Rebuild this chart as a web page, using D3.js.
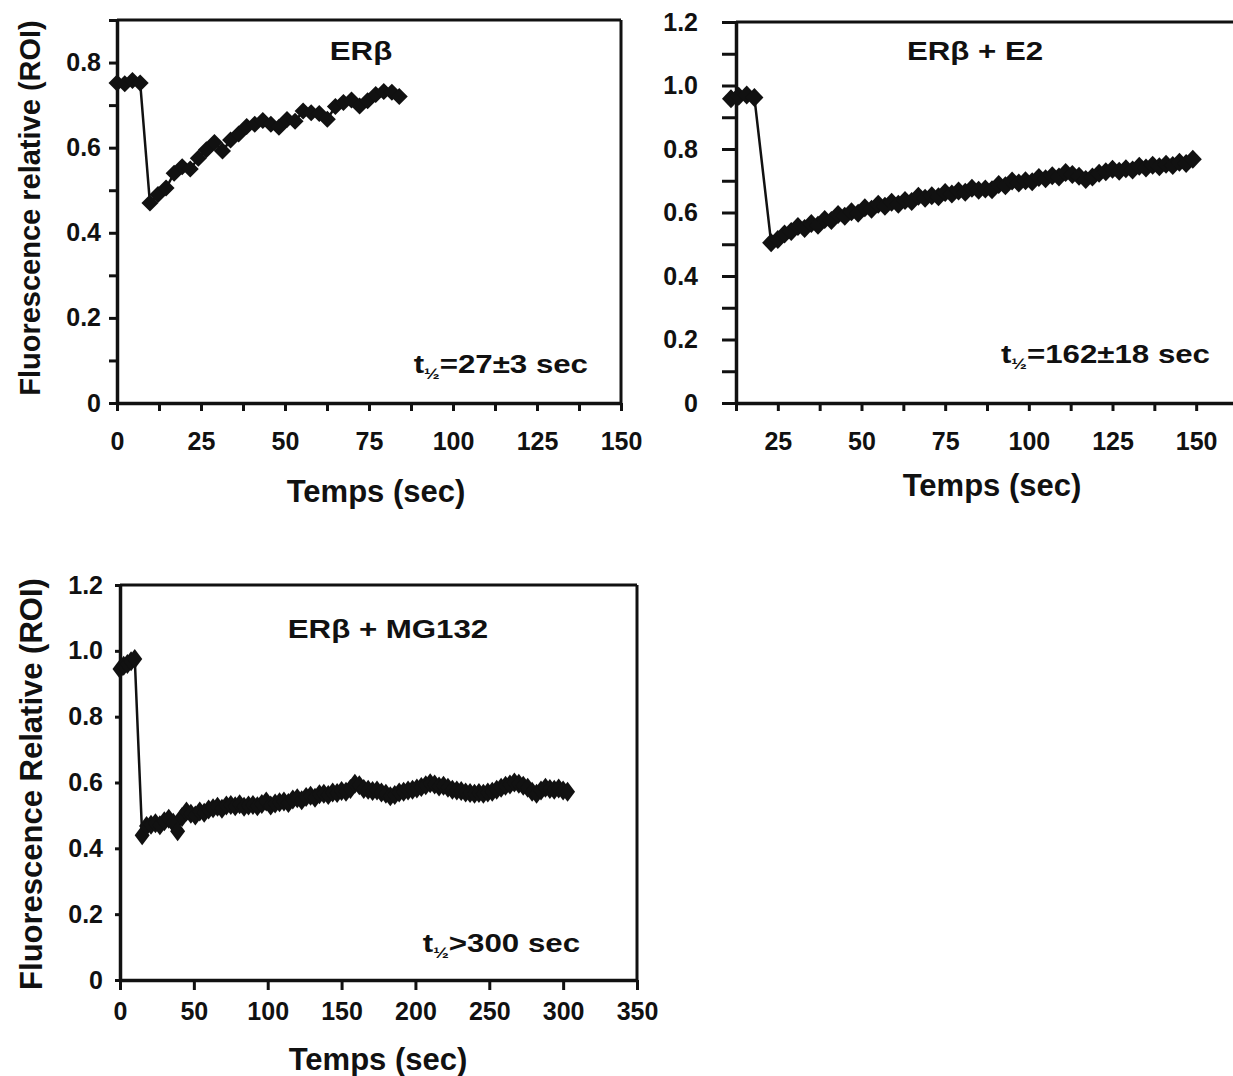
<!DOCTYPE html>
<html>
<head>
<meta charset="utf-8">
<script src="https://cdn.jsdelivr.net/npm/d3@7"></script>
<style>
  body { margin: 0; background: #fff; }
  svg text { font-family: "Liberation Sans", Arial, Helvetica, sans-serif; font-weight: bold; fill: #111; }
</style>
</head>
<body>
<script>
// ---- panel 1 : ERb ----
const erbTime = [0, 2.3, 4.6, 6.9, 9.8, 12.2, 14.6, 17.0, 19.4, 21.8, 24.2, 26.6, 29.0, 31.4, 33.8, 36.2, 38.6, 41.0,
  43.4, 45.8, 48.2, 50.6, 53.0, 55.4, 57.8, 60.2, 62.6, 65.0, 67.4, 69.8, 72.2, 74.6, 77.0, 79.4, 81.8, 84.0];
const erbValue = [0.752, 0.750, 0.758, 0.752, 0.470, 0.490, 0.505, 0.540, 0.555, 0.550, 0.575, 0.595, 0.612, 0.592,
  0.618, 0.632, 0.650, 0.655, 0.664, 0.655, 0.648, 0.666, 0.662, 0.686, 0.682, 0.680, 0.667, 0.697, 0.706, 0.712,
  0.698, 0.710, 0.725, 0.732, 0.730, 0.720];
const erbXTicks = [0, 12.5, 25, 37.5, 50, 62.5, 75, 87.5, 100, 112.5, 125, 137.5, 150];
const erbXLabels = [0, 25, 50, 75, 100, 125, 150];
const erbYTicks = [0, 0.1, 0.2, 0.3, 0.4, 0.5, 0.6, 0.7, 0.8, 0.9];
const erbYLabels = [0, 0.2, 0.4, 0.6, 0.8];

// ---- panel 2 : ERb + E2 ----
const e2Time = [11, 13.3, 15.7, 18, 23, 25, 27, 29, 31, 33, 35, 37, 39, 41, 43, 45, 47, 49, 51, 53, 55, 57, 59, 61,
  63, 65, 67, 69, 71, 73, 75, 77, 79, 81, 83, 85, 87, 89, 91, 93, 95, 97, 99, 101, 103, 105, 107, 109, 111, 113,
  115, 117, 119, 121, 123, 125, 127, 129, 131, 133, 135, 137, 139, 141, 143, 145, 147, 149];
const e2Value = [0.958, 0.966, 0.970, 0.962, 0.505, 0.515, 0.532, 0.540, 0.556, 0.550, 0.565, 0.560, 0.578, 0.575,
  0.594, 0.588, 0.602, 0.598, 0.615, 0.610, 0.626, 0.620, 0.632, 0.626, 0.638, 0.635, 0.651, 0.645, 0.653, 0.650,
  0.663, 0.658, 0.668, 0.664, 0.676, 0.670, 0.674, 0.672, 0.688, 0.684, 0.699, 0.693, 0.700, 0.697, 0.710, 0.706,
  0.716, 0.712, 0.726, 0.720, 0.714, 0.704, 0.712, 0.724, 0.728, 0.736, 0.730, 0.738, 0.734, 0.746, 0.740, 0.749,
  0.744, 0.752, 0.748, 0.758, 0.754, 0.768];
const e2XTicks = [12.5, 25, 37.5, 50, 62.5, 75, 87.5, 100, 112.5, 125, 137.5, 150, 162.5];
const e2XLabels = [25, 50, 75, 100, 125, 150];
const e2YTicks = [0, 0.1, 0.2, 0.3, 0.4, 0.5, 0.6, 0.7, 0.8, 0.9, 1.0, 1.1, 1.2];
const e2YLabels = [0, 0.2, 0.4, 0.6, 0.8, 1.0, 1.2];

// ---- panel 3 : ERb + MG132 ----
const mgTime = [0, 2.5, 5, 7.5, 10, 15, 18, 21, 24, 27, 30, 33, 36, 39, 42, 45, 48, 51, 54, 57, 60, 63, 66, 69, 72,
  75, 78, 81, 84, 87, 90, 93, 96, 99, 102, 105, 108, 111, 114, 117, 120, 123, 126, 129, 132, 135, 138, 141, 144,
  147, 150, 153, 156, 159, 162, 165, 168, 171, 174, 177, 180, 183, 186, 189, 192, 195, 198, 201, 204, 207, 210,
  213, 216, 219, 222, 225, 228, 231, 234, 237, 240, 243, 246, 249, 252, 255, 258, 261, 264, 267, 270, 273, 276,
  279, 282, 285, 288, 291, 294, 297, 300, 303];
const mgValue = [0.945, 0.955, 0.960, 0.968, 0.975, 0.440, 0.468, 0.472, 0.476, 0.470, 0.482, 0.490, 0.478, 0.452,
  0.495, 0.512, 0.505, 0.500, 0.512, 0.508, 0.518, 0.522, 0.526, 0.520, 0.530, 0.532, 0.528, 0.534, 0.526, 0.530,
  0.532, 0.528, 0.535, 0.542, 0.530, 0.536, 0.540, 0.542, 0.538, 0.548, 0.552, 0.546, 0.556, 0.560, 0.554, 0.564,
  0.566, 0.562, 0.570, 0.568, 0.574, 0.572, 0.580, 0.596, 0.592, 0.580, 0.578, 0.574, 0.576, 0.570, 0.566, 0.558,
  0.562, 0.570, 0.572, 0.576, 0.578, 0.582, 0.586, 0.592, 0.598, 0.594, 0.588, 0.590, 0.584, 0.578, 0.576, 0.574,
  0.570, 0.568, 0.566, 0.568, 0.566, 0.570, 0.572, 0.578, 0.584, 0.590, 0.594, 0.600, 0.596, 0.590, 0.584, 0.572,
  0.566, 0.576, 0.584, 0.580, 0.578, 0.582, 0.576, 0.572];
const mgXTicks = [0, 50, 100, 150, 200, 250, 300, 350];
const mgYTicks = [0, 0.2, 0.4, 0.6, 0.8, 1.0, 1.2];

const W = 1233, H = 1076;
const ink = "#111";

const svg = d3.select("body").append("svg")
  .attr("width", W)
  .attr("height", H);
svg.append("rect").attr("width", W).attr("height", H).attr("fill", "#fff");

function fmtY(d) { return d === 0 ? "0" : d.toFixed(1); }

function drawPanel(p) {
  const x = d3.scaleLinear().domain(p.xDomain).range(p.xRange);
  const y = d3.scaleLinear().domain(p.yDomain).range(p.yRange);
  const g = svg.append("g");

  // frame (top + right)
  g.append("line")
    .attr("x1", x(p.xDomain[0])).attr("x2", x(p.xDomain[1]))
    .attr("y1", y(p.yDomain[1])).attr("y2", y(p.yDomain[1]))
    .attr("stroke", ink).attr("stroke-width", 3);
  g.append("line")
    .attr("x1", x(p.xDomain[1])).attr("x2", x(p.xDomain[1]))
    .attr("y1", y(p.yDomain[0])).attr("y2", y(p.yDomain[1]))
    .attr("stroke", ink).attr("stroke-width", 3);

  // axes
  const xAxis = d3.axisBottom(x)
    .tickValues(p.xTicks)
    .tickFormat(d => p.xLabels.includes(d) ? String(d) : "")
    .tickSizeInner(p.xTickSize).tickSizeOuter(0).tickPadding(p.xTickPad);
  const yAxis = d3.axisLeft(y)
    .tickValues(p.yTicks)
    .tickFormat(d => p.yLabels.includes(d) ? fmtY(d) : "")
    .tickSizeInner(p.yTickSize).tickSizeOuter(0).tickPadding(p.yTickPad);

  [[xAxis, "translate(0," + y(p.yDomain[0]) + ")"], [yAxis, "translate(" + x(p.xDomain[0]) + ",0)"]].forEach(([ax, tr]) => {
    const a = g.append("g").attr("transform", tr).call(ax);
    a.select(".domain").attr("stroke", ink).attr("stroke-width", 3.5);
    a.selectAll(".tick line").attr("stroke", ink).attr("stroke-width", 3);
    a.selectAll(".tick text").attr("font-size", 25).attr("fill", ink);
  });

  // series line + diamond markers
  const pts = p.time.map((t, i) => [t, p.value[i]]).filter(d => d[1] !== undefined);
  g.append("path")
    .datum(pts)
    .attr("fill", "none")
    .attr("stroke", ink)
    .attr("stroke-width", 2.5)
    .attr("d", d3.line().x(d => x(d[0])).y(d => y(d[1])));
  const mw = p.marker[0], mh = p.marker[1];
  g.selectAll("path.pt")
    .data(pts)
    .enter()
    .append("path")
      .attr("class", "pt")
      .attr("d", `M0,${-mh}L${mw},0L0,${mh}L${-mw},0Z`)
      .attr("transform", d => "translate(" + x(d[0]) + "," + y(d[1]) + ")")
      .attr("fill", ink);

  // titles
  g.append("text")
    .attr("transform", "translate(" + p.titlePos[0] + "," + p.titlePos[1] + ") scale(1.25,1)")
    .attr("text-anchor", "middle")
    .attr("font-size", 25)
    .text(p.title);

  const ann = g.append("text")
    .attr("transform", "translate(" + p.annPos[0] + "," + p.annPos[1] + ") scale(1.25,1)")
    .attr("text-anchor", "end")
    .attr("font-size", 25);
  ann.append("tspan").text("t");
  ann.append("tspan").attr("font-size", 15).attr("dy", 6).text("½");
  ann.append("tspan").attr("dy", -6).text(p.annotation);

  g.append("text")
    .attr("x", p.xTitlePos[0]).attr("y", p.xTitlePos[1])
    .attr("text-anchor", "middle")
    .attr("font-size", 31)
    .text("Temps (sec)");

  if (p.yTitle) {
    g.append("text")
      .attr("transform", "translate(" + p.yTitlePos[0] + "," + p.yTitlePos[1] + ") rotate(-90)")
      .attr("text-anchor", "middle")
      .attr("font-size", p.yTitleSize)
      .text(p.yTitle);
  }
}

drawPanel({
  time: erbTime, value: erbValue,
  xDomain: [0, 150], xRange: [117, 621],
  yDomain: [0, 0.9], yRange: [403, 20],
  xTicks: erbXTicks, xLabels: erbXLabels, yTicks: erbYTicks, yLabels: erbYLabels,
  xTickSize: 8, xTickPad: 21, yTickSize: 8, yTickPad: 8,
  marker: [8.5, 8.5],
  title: "ERβ", titlePos: [361, 60],
  annotation: "=27±3 sec", annPos: [588, 373],
  xTitlePos: [376, 502],
  yTitle: "Fluorescence relative (ROI)", yTitlePos: [40, 208], yTitleSize: 29
});

drawPanel({
  time: e2Time, value: e2Value,
  xDomain: [12.5, 162.5], xRange: [736, 1238],
  yDomain: [0, 1.2], yRange: [403, 22],
  xTicks: e2XTicks, xLabels: e2XLabels, yTicks: e2YTicks, yLabels: e2YLabels,
  xTickSize: 8, xTickPad: 21, yTickSize: 14, yTickPad: 24,
  marker: [9, 9.5],
  title: "ERβ + E2", titlePos: [975, 60],
  annotation: "=162±18 sec", annPos: [1210, 363],
  xTitlePos: [992, 496],
  yTitle: null
});

drawPanel({
  time: mgTime, value: mgValue,
  xDomain: [0, 350], xRange: [120, 637],
  yDomain: [0, 1.2], yRange: [980, 585],
  xTicks: mgXTicks, xLabels: mgXTicks, yTicks: mgYTicks, yLabels: mgYTicks,
  xTickSize: 10, xTickPad: 12, yTickSize: 5, yTickPad: 12,
  marker: [7.5, 10],
  title: "ERβ + MG132", titlePos: [388, 638],
  annotation: ">300 sec", annPos: [580, 952],
  xTitlePos: [378, 1070],
  yTitle: "Fluorescence Relative (ROI)", yTitlePos: [42, 784], yTitleSize: 31
});
</script>
</body>
</html>
